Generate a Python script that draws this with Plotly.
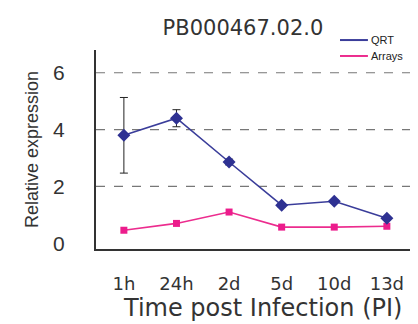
import plotly.graph_objects as go

categories = ["1h", "24h", "2d", "5d", "10d", "13d"]
qrt = [3.80, 4.40, 2.86, 1.34, 1.48, 0.88]
qrt_err = [1.33, 0.30, 0.10, 0.06, 0.06, 0.05]
arrays = [0.46, 0.70, 1.10, 0.57, 0.57, 0.60]
y_ticks = [0, 2, 4, 6]
grid_vals = [2, 4, 6]
series_names = ["QRT", "Arrays"]
series_colors = ["#3a3d9a", "#ec2c8e"]
title = "PB000467.02.0"
x_title = "Time post Infection (PI)"
y_title = "Relative expression"

xpos = list(range(len(categories)))

W, H = 410, 316  # page body adds an 8px margin

fig = go.Figure()
fig.add_trace(go.Scatter(
    x=xpos, y=arrays, mode="lines+markers", name=series_names[1], showlegend=False,
    line=dict(color=series_colors[1], width=1.6),
    marker=dict(symbol="square", size=7, color="#ec1c8c"),
))
fig.add_trace(go.Scatter(
    x=xpos, y=qrt, mode="lines+markers", name=series_names[0], showlegend=False,
    line=dict(color=series_colors[0], width=1.6),
    marker=dict(symbol="diamond", size=10, color="#2e3192"),
    error_y=dict(type="data", array=qrt_err, color="#222222", thickness=1, width=4),
))

shapes = [dict(type="line", xref="paper", yref="y", x0=0, x1=1, y0=v, y1=v,
               line=dict(color="#777777", width=1.2, dash="dash"), layer="below")
          for v in grid_vals]

annotations = []
for i, (nm, col) in enumerate(zip(series_names, series_colors)):
    yy = 1.05 - i * 0.08
    shapes.append(dict(type="line", xref="paper", yref="paper", x0=0.777, x1=0.866,
                       y0=yy, y1=yy, line=dict(color=col, width=2)))
    annotations.append(dict(text=nm, xref="paper", yref="paper", x=0.868, y=yy,
                            xanchor="left", yanchor="middle", showarrow=False,
                            font=dict(family="Liberation Sans Narrow, Liberation Sans",
                                      size=11, color="#222222")))
annotations.append(dict(text=x_title, xref="paper", yref="paper", x=0.529, y=-0.296,
                        xanchor="center", yanchor="middle", showarrow=False,
                        font=dict(family="DejaVu Sans", size=24, color="#333333")))

fig.update_layout(
    width=W, height=H,
    margin=dict(l=88, r=8, t=42, b=75),
    paper_bgcolor="white", plot_bgcolor="white",
    shapes=shapes, annotations=annotations, showlegend=False,
    title=dict(text=title, x=0.468, xref="paper", y=1 - 20 / H, yref="container",
               xanchor="center", yanchor="middle",
               font=dict(family="DejaVu Sans", size=21, color="#333333")),
    xaxis=dict(range=[-0.53, 5.44], tickvals=xpos, ticktext=categories,
               showgrid=False, zeroline=False, showline=True, linecolor="#333333",
               linewidth=2, ticks="", ticklabelstandoff=17, automargin=False,
               tickfont=dict(family="DejaVu Sans", size=18, color="#333333")),
    yaxis=dict(range=[-0.2, 6.8], tickvals=y_ticks, showgrid=False, zeroline=False,
               showline=True, linecolor="#333333", linewidth=2, ticks="",
               ticklabelstandoff=25, automargin=False,
               tickfont=dict(family="Liberation Sans", size=21, color="#333333"),
               title=dict(text=y_title, standoff=10,
                          font=dict(family="Liberation Sans", size=18, color="#333333"))),
)

fig.write_html("out.html")
